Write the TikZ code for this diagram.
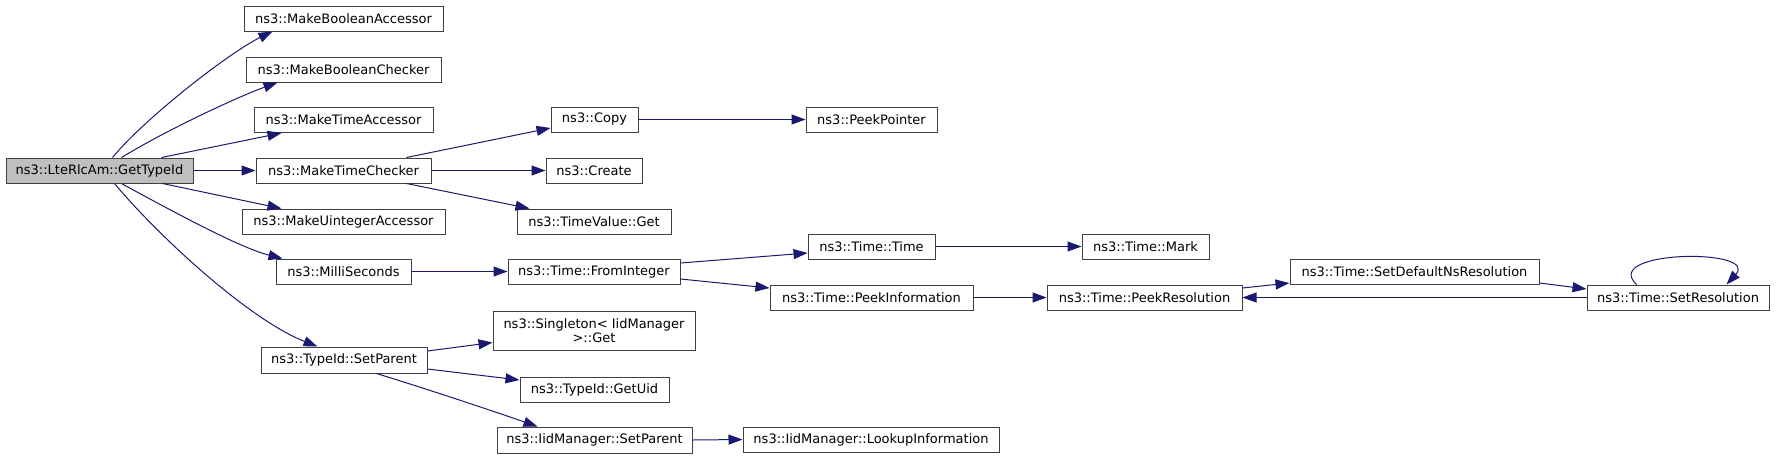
\documentclass[tikz,border=0pt]{standalone}
\usepackage{fontspec}
\setmainfont{DejaVu Sans}
\usetikzlibrary{arrows.meta,calc}
\definecolor{edgec}{HTML}{191970}
\definecolor{boxc}{HTML}{404040}
\definecolor{rootfill}{HTML}{BFBFBF}
\tikzset{
  fn/.style={draw=boxc, line width=1pt, fill=white, inner sep=0pt,
    font=\fontsize{13}{14.5}\selectfont, align=center, minimum height=25pt},
  rootfn/.style={fn, fill=rootfill},
  callarrow/.style={draw=edgec, line width=1pt, -{Triangle[length=14pt,width=10pt]}},
}
\begin{document}
\begin{tikzpicture}[x=1pt,y=-1pt]
\useasboundingbox (0,0) rectangle (1776,459);
% nodes
\node[rootfn, minimum width=187pt] (root) at (99.5,170.5) {ns3::LteRlcAm::GetTypeId};
\node[fn, minimum width=199pt] (mba) at (343.5,18.5) {ns3::MakeBooleanAccessor};
\node[fn, minimum width=195pt] (mbc) at (343.5,69.5) {ns3::MakeBooleanChecker};
\node[fn, minimum width=179pt] (mta) at (343.5,120) {ns3::MakeTimeAccessor};
\node[fn, minimum width=175pt] (mtc) at (343.5,170.5) {ns3::MakeTimeChecker};
\node[fn, minimum width=203pt] (mua) at (343.5,221.5) {ns3::MakeUintegerAccessor};
\node[fn, minimum width=135pt] (ms) at (343.5,271.5) {ns3::MilliSeconds};
\node[fn, minimum width=166pt, minimum height=26pt] (tsp) at (344,360) {ns3::TypeId::SetParent};
\node[fn, minimum width=87pt] (copy) at (594.5,119.5) {ns3::Copy};
\node[fn, minimum width=96pt] (create) at (594,170.5) {ns3::Create};
\node[fn, minimum width=154pt] (tvg) at (594,221.5) {ns3::TimeValue::Get};
\node[fn, minimum width=172pt] (fi) at (594,271.5) {ns3::Time::FromInteger};
\node[fn, minimum width=202pt, minimum height=39pt] (single) at (594,330.5) {ns3::Singleton< IidManager\\ >::Get};
\node[fn, minimum width=149pt] (uid) at (594.5,389.5) {ns3::TypeId::GetUid};
\node[fn, minimum width=195pt, minimum height=26pt] (ims) at (594.5,440) {ns3::IidManager::SetParent};
\node[fn, minimum width=131pt] (pp) at (871.5,119.5) {ns3::PeekPointer};
\node[fn, minimum width=127pt] (tt) at (871.5,246.5) {ns3::Time::Time};
\node[fn, minimum width=203pt] (pi) at (871.5,297.5) {ns3::Time::PeekInformation};
\node[fn, minimum width=256pt] (lookup) at (871,439.5) {ns3::IidManager::LookupInformation};
\node[fn, minimum width=127pt] (mark) at (1145.5,246.5) {ns3::Time::Mark};
\node[fn, minimum width=195pt] (pr) at (1144.5,297.5) {ns3::Time::PeekResolution};
\node[fn, minimum width=249pt] (sdns) at (1414.5,271.5) {ns3::Time::SetDefaultNsResolution};
\node[fn, minimum width=182pt] (sr) at (1678,297.5) {ns3::Time::SetResolution};
% edges from root
\draw[callarrow] ($(root.north west)+(107,0)$) .. controls (145,118) and (230,52) .. ($(mba.south west)+(29,0)$);
\draw[callarrow] ($(root.north west)+(116,0)$) .. controls (170,128) and (240,96) .. ($(mbc.south west)+(32,0)$);
\draw[callarrow] ($(root.north west)+(156,0)$) -- ($(mta.south west)+(28,0)$);
\draw[callarrow] (root.east) -- (mtc.west);
\draw[callarrow] ($(root.south west)+(157,0)$) -- ($(mua.north west)+(40,0)$);
\draw[callarrow] ($(root.south west)+(116,0)$) .. controls (170,210) and (240,248) .. ($(ms.north west)+(7,0)$);
\draw[callarrow] ($(root.south west)+(109,0)$) .. controls (160,238) and (250,320) .. ($(tsp.north west)+(57,0)$);
% MakeTimeChecker
\draw[callarrow] ($(mtc.north west)+(151,0)$) -- ($(copy.west)+(0,8.5)$);
\draw[callarrow] (mtc.east) -- (create.west);
\draw[callarrow] ($(mtc.south west)+(151,0)$) -- ($(tvg.north west)+(13,0)$);
\draw[callarrow] (copy.east) -- (pp.west);
% MilliSeconds chain
\draw[callarrow] (ms.east) -- (fi.west);
\draw[callarrow] ($(fi.east)+(0,-8.5)$) -- ($(tt.west)+(0,6.5)$);
\draw[callarrow] ($(fi.east)+(0,7.5)$) -- ($(pi.west)+(0,-9.5)$);
\draw[callarrow] (tt.east) -- (mark.west);
\draw[callarrow] (pi.east) -- (pr.west);
\draw[callarrow] ($(pr.east)+(0,-9.5)$) -- ($(sdns.west)+(0,11.5)$);
\draw[callarrow] ($(sdns.east)+(0,11.5)$) -- ($(sr.west)+(0,-8.5)$);
\draw[callarrow] (sr.west) -- (pr.east);
\draw[callarrow] ($(sr.north west)+(50,0)$) .. controls (1600,250) and (1760,248) .. ($(sr.north west)+(140,0)$);
% TypeId::SetParent
\draw[callarrow] ($(tsp.east)+(0,-9)$) -- ($(single.west)+(0,12)$);
\draw[callarrow] ($(tsp.east)+(0,9)$) -- ($(uid.west)+(0,-9.5)$);
\draw[callarrow] ($(tsp.south west)+(116,0)$) .. controls (430,390) and (490,410) .. ($(ims.north west)+(41,0)$);
\draw[callarrow] (ims.east) -- (lookup.west);
\end{tikzpicture}
\end{document}
